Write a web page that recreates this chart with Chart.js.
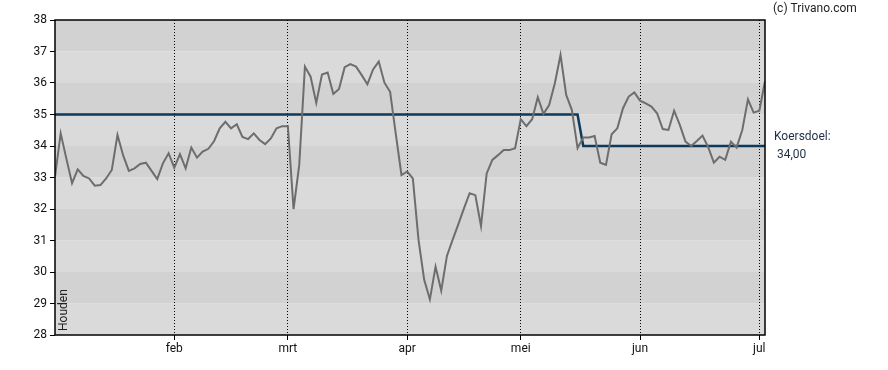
<!DOCTYPE html>
<html>
<head>
<meta charset="utf-8">
<script src="https://cdn.jsdelivr.net/npm/chart.js@4"></script>
<style>
  html, body { margin: 0; padding: 0; background: #fff; }
  #wrap { width: 888px; height: 370px; }
</style>
</head>
<body>
<div id="wrap"><canvas id="koersChart" width="888" height="370"></canvas></div>
<script>
// month labels and the trading-day index where each month starts
const monthNames = ['feb', 'mrt', 'apr', 'mei', 'jun', 'jul'];
const monthStarts = [21, 41, 62, 82, 103, 124];

// closing prices, one per trading day (index 0 = first day of january)
const prices = [
    33.03, 34.40, 33.60, 32.82, 33.26, 33.05, 32.97, 32.74, 32.76, 32.97,
    33.24, 34.35, 33.70, 33.21, 33.29, 33.43, 33.47, 33.21, 32.95, 33.45,
    33.77, 33.31, 33.74, 33.29, 33.95, 33.63, 33.82, 33.91, 34.15, 34.56,
    34.77, 34.56, 34.69, 34.29, 34.22, 34.40, 34.19, 34.06, 34.24, 34.56,
    34.63, 34.63, 32.00, 33.40, 36.52, 36.20, 35.37, 36.27, 36.33, 35.65,
    35.81, 36.50, 36.60, 36.52, 36.25, 35.96, 36.43, 36.68, 36.01, 35.72,
    34.38, 33.08, 33.19, 32.97, 31.02, 29.75, 29.13, 30.17, 29.41, 30.51,
    31.02, 31.51, 32.02, 32.50, 32.44, 31.46, 33.13, 33.56, 33.71, 33.87,
    33.87, 33.93, 34.85, 34.63, 34.85, 35.55, 35.02, 35.30, 35.99, 36.89,
    35.62, 35.14, 33.93, 34.27, 34.27, 34.32, 33.47, 33.40, 34.37, 34.56,
    35.20, 35.57, 35.70, 35.44, 35.35, 35.25, 35.04, 34.54, 34.51, 35.12,
    34.67, 34.14, 34.00, 34.16, 34.33, 33.96, 33.47, 33.66, 33.56, 34.14,
    33.95, 34.51, 35.48, 35.06, 35.12, 36.06
];

// koersdoel (price target) as a step line
const targetX = [0, 92, 93, 125];
const targetY = [35, 35, 34, 34];
const targetLabel = '34,00';

const yMin = 28;
const yMax = 38;

const priceData = prices.map((p, i) => ({ x: i, y: p }));
const targetData = targetX.map((x, i) => ({ x: x, y: targetY[i] }));

const fontFamily = 'Roboto, "Liberation Sans", Arial, sans-serif';

// alternating grey bands behind the plot
const bandsPlugin = {
    id: 'bands',
    beforeDraw(chart) {
        const { ctx, chartArea, scales } = chart;
        ctx.save();
        for (let v = yMin; v < yMax; v++) {
            const top = scales.y.getPixelForValue(v + 1);
            const bottom = scales.y.getPixelForValue(v);
            ctx.fillStyle = (v - yMin) % 2 === 0 ? '#dadada' : '#d2d2d2';
            ctx.fillRect(chartArea.left, top, chartArea.right - chartArea.left, bottom - top);
        }
        ctx.restore();
    }
};

// frame and extra texts
const extrasPlugin = {
    id: 'extras',
    afterDraw(chart) {
        const { ctx, chartArea, scales } = chart;
        ctx.save();
        ctx.strokeStyle = '#000';
        ctx.lineWidth = 1.5;
        ctx.strokeRect(chartArea.left, chartArea.top, chartArea.right - chartArea.left, chartArea.bottom - chartArea.top);

        ctx.font = '12px ' + fontFamily;
        ctx.fillStyle = '#222';
        ctx.textAlign = 'left';
        ctx.textBaseline = 'middle';
        ctx.fillText('(c) Trivano.com', chartArea.right + 8, 9);

        const ty = scales.y.getPixelForValue(targetY[targetY.length - 1]);
        ctx.fillStyle = '#1b2f45';
        ctx.fillText('Koersdoel:', chartArea.right + 9, ty - 9);
        ctx.fillText(targetLabel, chartArea.right + 12, ty + 9);

        // "Houden" advice, rotated, bottom-left inside the plot
        ctx.fillStyle = '#222';
        ctx.translate(chartArea.left + 9, chartArea.bottom - 4);
        ctx.rotate(-Math.PI / 2);
        ctx.textBaseline = 'middle';
        ctx.fillText('Houden', 0, 0);
        ctx.restore();
    }
};

const koersChart = new Chart(document.getElementById('koersChart'), {
    type: 'line',
    data: {
        datasets: [
            {
                label: 'Koers',
                data: priceData,
                borderColor: '#6d6d6d',
                borderWidth: 2,
                pointRadius: 0,
                tension: 0,
                order: 0
            },
            {
                label: 'Koersdoel',
                data: targetData,
                borderColor: '#0d3a5c',
                borderWidth: 2.5,
                pointRadius: 0,
                tension: 0,
                order: 1
            }
        ]
    },
    options: {
        responsive: false,
        animation: false,
        layout: { padding: { top: 20, right: 123, left: 0, bottom: 0 } },
        plugins: {
            legend: { display: false },
            tooltip: { enabled: false }
        },
        scales: {
            x: {
                type: 'linear',
                min: 0,
                max: prices.length - 1,
                afterBuildTicks: (scale) => {
                    scale.ticks = monthStarts.map(v => ({ value: v }));
                },
                afterFit: (scale) => { scale.height = 35; },
                ticks: {
                    autoSkip: false,
                    maxRotation: 0,
                    padding: 2,
                    color: '#111',
                    font: { family: fontFamily, size: 12 },
                    callback: (v) => monthNames[monthStarts.indexOf(v)]
                },
                grid: {
                    color: '#000',
                    lineWidth: 1,
                    tickLength: 5,
                    tickColor: '#000',
                    drawOnChartArea: true
                },
                border: { display: false, dash: [1, 2] }
            },
            y: {
                min: yMin,
                max: yMax,
                afterFit: (scale) => { scale.width = 55; },
                ticks: {
                    stepSize: 1,
                    padding: 3,
                    color: '#111',
                    font: { family: fontFamily, size: 12 }
                },
                grid: {
                    drawOnChartArea: false,
                    tickLength: 5,
                    tickColor: '#000'
                },
                border: { display: false }
            }
        }
    },
    plugins: [bandsPlugin, extrasPlugin]
});
</script>
</body>
</html>
